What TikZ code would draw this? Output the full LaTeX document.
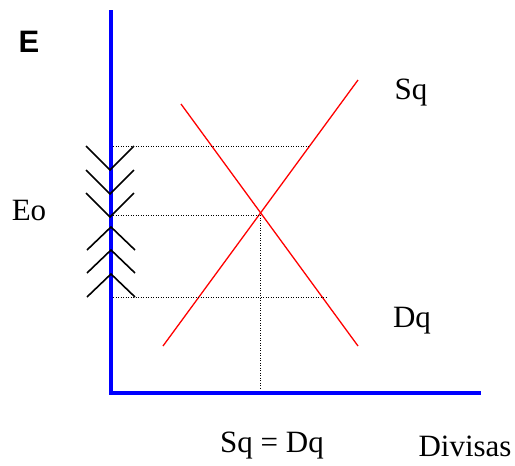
\documentclass[tikz,border=0pt]{standalone}
\usepackage{fontspec}
\setmainfont{Liberation Serif}
\newfontfamily\arialfont{Liberation Sans}
\begin{document}
\begin{tikzpicture}[x=1pt,y=-1pt,
  axis/.style={blue,line width=4.5pt},
  curve/.style={red,line width=1.3pt},
  guide/.style={black,line width=1pt,dash pattern=on 1pt off 1.5pt},
  chev/.style={black,line width=1.6pt},
  lbl/.style={inner sep=0pt,font=\fontsize{31}{36}\selectfont}]
\useasboundingbox (0,0) rectangle (515,466);
% axes
\coordinate (ytop) at (111,10);
\coordinate (orig) at (111,393);
\coordinate (xend) at (481,393);
\draw[axis] (ytop) -- (orig) -- (xend);
% curves
\coordinate (s1) at (163,346);
\coordinate (s2) at (358,80);
\coordinate (d1) at (181,104);
\coordinate (d2) at (358,346);
\draw[curve] (s1) -- (s2);
\draw[curve] (d1) -- (d2);
% guides
\coordinate (g1a) at (113,146); \coordinate (g1b) at (309,146);
\coordinate (g2a) at (113,215); \coordinate (g2b) at (260,215);
\coordinate (g3a) at (113,297); \coordinate (g3b) at (326,297);
\coordinate (g4b) at (260,388);
\draw[guide] (g1a) -- (g1b);
\draw[guide] (g2a) -- (g2b);
\draw[guide] (g3a) -- (g3b);
\draw[guide] (g2b) -- (g4b);
% chevrons
\foreach \v in {170,194,217}{
  \draw[chev] (86,\v-24) -- (110,\v) -- (134,\v-24);
}
\foreach \v in {227,250,274}{
  \draw[chev] (87,\v+23) -- (111,\v) -- (135,\v+23);
}
% labels
\node[lbl,font=\arialfont\bfseries\fontsize{31}{34}\selectfont] (E) at (29,42) {E};
\node[lbl] (Eo) at (29,211) {Eo};
\node[lbl] (Sq) at (411,93) {Sq};
\node[lbl] (Dq) at (412,321) {Dq};
\node[lbl] (eq) at (272,446) {Sq = Dq};
\node[lbl] (div) at (465,446) {Divisas};
\end{tikzpicture}
\end{document}
